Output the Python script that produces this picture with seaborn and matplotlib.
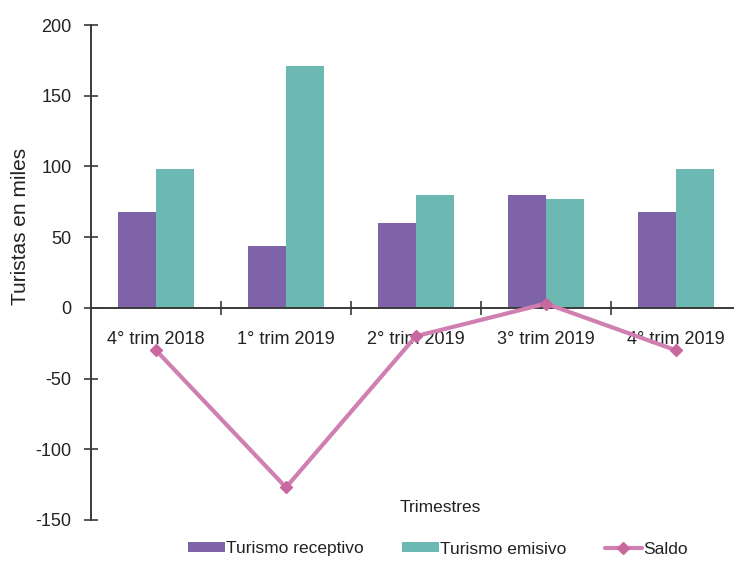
import matplotlib
matplotlib.use("Agg")
import matplotlib.pyplot as plt
from matplotlib.lines import Line2D
from matplotlib.patches import Patch
import seaborn as sns
import pandas as pd

# Quarterly tourist flows (thousands)
trimestres = ["4° trim 2018", "1° trim 2019", "2° trim 2019", "3° trim 2019", "4° trim 2019"]
receptivo = [68, 44, 60, 80, 68]
emisivo = [98, 171, 80, 77, 98]
saldo = [-30, -127, -20, 3, -30]

series_names = ["Turismo receptivo", "Turismo emisivo"]
col_receptivo = "#7E63A9"
col_emisivo = "#6CB8B2"
col_saldo = "#D07FB1"
col_marker = "#C9679F"
col_text = "#222222"
col_axis = "#3a3a3a"

df = pd.DataFrame({
    "Trimestre": trimestres * 2,
    "Turistas": receptivo + emisivo,
    "Serie": [series_names[0]] * len(trimestres) + [series_names[1]] * len(trimestres),
})

sns.set_theme(style="white")
plt.rcParams["font.family"] = ["Liberation Sans", "DejaVu Sans"]
plt.rcParams["axes.unicode_minus"] = False

fig = plt.figure(figsize=(7.34, 5.61), dpi=100)
ax = fig.add_axes([91 / 734, 41 / 561, 650 / 734, 495 / 561])

sns.barplot(data=df, x="Trimestre", y="Turistas", hue="Serie", order=trimestres,
            hue_order=series_names, palette=[col_receptivo, col_emisivo],
            width=0.58, gap=0, saturation=1, errorbar=None, ax=ax, legend=False,
            linewidth=0)

ax.plot(range(len(trimestres)), saldo, color=col_saldo, linewidth=3,
        marker="D", markersize=6.5, markerfacecolor=col_marker,
        markeredgecolor=col_marker, zorder=5)

ax.set_xlim(-0.5, len(trimestres) - 0.5)
ax.set_ylim(-150, 200)
ax.set_yticks(range(-150, 201, 50))

for side in ("top", "right"):
    ax.spines[side].set_visible(False)
ax.spines["bottom"].set_position(("data", 0))
for side in ("left", "bottom"):
    ax.spines[side].set_color(col_axis)
    ax.spines[side].set_linewidth(1.4)

ax.set_xticks(range(len(trimestres)))
ax.set_xticklabels(trimestres)
ax.set_xticks([i + 0.5 for i in range(len(trimestres) - 1)], minor=True)
ax.tick_params(axis="x", which="major", length=0, pad=17, labelsize=13,
               colors=col_text)
ax.tick_params(axis="x", which="minor", length=10, direction="inout",
               width=1.2, color=col_axis, bottom=True)
ax.tick_params(axis="y", length=10, direction="inout", width=1.2, pad=9,
               labelsize=13, color=col_axis, labelcolor=col_text, left=True)

ax.set_xlabel("")
ax.set_ylabel("")
fig.text(21 / 734, 1 - 226 / 561, "Turistas en miles", rotation=90,
         ha="center", va="center", fontsize=15, color=col_text)
fig.text(440 / 734, 1 - 508 / 561, "Trimestres", ha="center", va="center",
         fontsize=12.5, color=col_text)

handles = [
    Patch(facecolor=col_receptivo, edgecolor="none"),
    Patch(facecolor=col_emisivo, edgecolor="none"),
    Line2D([0], [0], color=col_saldo, linewidth=3, marker="D", markersize=6,
           markerfacecolor=col_marker, markeredgecolor=col_marker),
]
fig.legend(handles, series_names + ["Saldo"], loc="center",
           bbox_to_anchor=(438 / 734, 1 - 549 / 561), ncol=3, frameon=False,
           fontsize=12.5, handlelength=2.1, handleheight=0.5, handletextpad=0.1,
           columnspacing=2.2, labelcolor=col_text)

fig.savefig("out.png", dpi=100)
